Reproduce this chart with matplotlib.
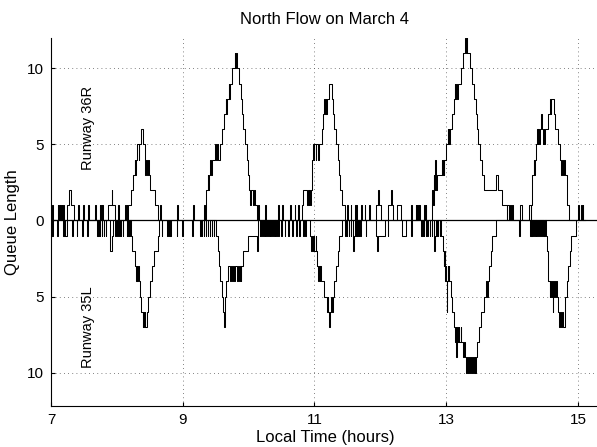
import matplotlib
matplotlib.use("Agg")
import matplotlib.pyplot as plt
import numpy as np

plt.rcParams['font.family'] = ['Liberation Sans', 'DejaVu Sans']

# queue length steps for runway 36R (time in hours, queue length)
r36_time = [
    7.00, 7.02, 7.03, 7.10, 7.11, 7.12, 7.13, 7.14, 7.15, 7.16, 7.17, 7.18, 7.19,
    7.25, 7.27, 7.31, 7.35, 7.41, 7.42, 7.49, 7.50, 7.56, 7.57, 7.67, 7.68,
    7.74, 7.75, 7.76, 7.77, 7.78, 7.79, 7.86, 7.92, 7.93, 7.97, 8.02, 8.03,
    8.13, 8.14, 8.15, 8.16, 8.17, 8.22, 8.25, 8.27, 8.28, 8.29, 8.31, 8.33, 8.34,
    8.37, 8.39, 8.42, 8.43, 8.44, 8.46, 8.47, 8.49, 8.50, 8.58, 8.62,
    8.66, 8.67, 8.92, 8.93, 9.16, 9.17,
    9.33, 9.34, 9.35, 9.36, 9.38, 9.39, 9.40, 9.42, 9.43, 9.44, 9.49, 9.51, 9.52,
    9.54, 9.56, 9.60, 9.62, 9.65, 9.66, 9.67, 9.70, 9.71, 9.72, 9.75, 9.79, 9.80,
    9.81, 9.83, 9.86, 9.88, 9.90, 9.92, 9.94, 9.97, 9.99, 10.01, 10.02, 10.03,
    10.06, 10.08, 10.09, 10.12,
    10.15, 10.16, 10.25, 10.26, 10.45, 10.46, 10.51, 10.52, 10.63, 10.64,
    10.70, 10.71, 10.75, 10.76,
    10.81, 10.82, 10.885, 10.90, 10.91, 10.92, 10.93, 10.945, 10.96, 10.97, 10.98,
    10.99, 11.00, 11.02, 11.03, 11.06, 11.07, 11.11, 11.13, 11.15, 11.16, 11.17,
    11.18, 11.19, 11.22, 11.265, 11.28, 11.30, 11.33, 11.35, 11.37, 11.39, 11.42, 11.46,
    11.50, 11.51, 11.55, 11.56, 11.62, 11.625, 11.63, 11.64, 11.71, 11.72,
    11.76, 11.77, 11.83, 11.84, 11.93, 11.96, 11.98, 12.01, 12.11, 12.16, 12.18, 12.19,
    12.26, 12.31, 12.47, 12.48, 12.54, 12.545, 12.55, 12.56, 12.57, 12.58, 12.59, 12.60,
    12.67, 12.68, 12.69, 12.70,
    12.78, 12.79, 12.80, 12.81, 12.82, 12.83, 12.84, 12.85, 12.86, 12.93, 12.94,
    12.95, 12.96, 12.97, 13.00, 13.02, 13.03, 13.04, 13.05, 13.06, 13.09, 13.12,
    13.13, 13.14, 13.15, 13.16, 13.18, 13.22, 13.26, 13.29, 13.305, 13.31, 13.32,
    13.36, 13.39, 13.42, 13.45, 13.47, 13.49, 13.52, 13.55, 13.58, 13.76, 13.78,
    13.84, 13.92, 13.93, 13.95, 13.97, 13.98, 14.00, 14.01, 14.12, 14.15,
    14.26, 14.28, 14.29, 14.30, 14.31, 14.33, 14.34, 14.35, 14.37, 14.38, 14.39,
    14.40, 14.41, 14.43, 14.44, 14.45, 14.47, 14.48, 14.49, 14.50, 14.55, 14.57,
    14.585, 14.595, 14.63, 14.65, 14.69, 14.73, 14.75, 14.76, 14.78, 14.79, 14.81,
    14.83, 14.84, 14.86, 15.00, 15.01, 15.04, 15.06, 15.07, 15.08, 15.10,
]
r36_queue = [
    0, 1, 0, 1, 0, 1, 0, 1, 0, 1, 0, 1, 0,
    1, 2, 1, 0, 1, 0, 1, 0, 1, 0, 1, 0,
    1, 0, 1, 0, 1, 0, 1, 2, 1, 0, 1, 0,
    1, 0, 1, 0, 1, 2, 3, 4, 3, 4, 5, 4, 5,
    6, 5, 4, 3, 4, 3, 4, 3, 2, 1, 0,
    1, 0, 1, 0, 1, 0,
    1, 0, 1, 2, 3, 2, 3, 4, 3, 4, 5, 4, 5,
    4, 5, 6, 7, 8, 7, 8, 9, 8, 9, 10, 11, 10,
    11, 10, 9, 8, 7, 6, 5, 4, 3, 2, 1, 2,
    1, 2, 1, 0,
    1, 0, 1, 0, 1, 0, 1, 0, 1, 0,
    1, 0, 1, 0,
    1, 2, 1, 2, 1, 2, 1, 2, 3, 4, 5,
    4, 5, 4, 5, 4, 5, 6, 7, 8, 7, 8,
    7, 8, 9, 8, 7, 6, 5, 4, 3, 2, 1, 0,
    1, 0, 1, 0, 1, 0, 1, 0, 1, 0,
    1, 0, 1, 0, 1, 2, 1, 0, 1, 2, 1, 0,
    1, 0, 1, 0, 1, 0, 1, 0, 1, 0, 1, 0,
    1, 0, 1, 0,
    1, 2, 1, 3, 2, 4, 3, 2, 3, 4, 3,
    4, 3, 4, 5, 6, 5, 6, 5, 6, 7, 8,
    9, 8, 9, 8, 9, 10, 11, 12, 11, 12, 11,
    10, 9, 8, 7, 6, 5, 4, 3, 2, 3, 2,
    1, 0, 1, 0, 1, 0, 1, 0, 1, 0,
    1, 0, 1, 2, 3, 4, 3, 4, 5, 6, 5,
    6, 5, 6, 7, 6, 5, 6, 5, 6, 7, 8,
    7, 8, 7, 6, 5, 4, 3, 4, 3, 4, 3,
    2, 1, 0, 1, 0, 1, 0, 1, 0, 0,
]

# queue length steps for runway 35L (drawn below the axis)
r35_time = [
    7.00, 7.01, 7.02, 7.03, 7.09, 7.10, 7.18, 7.19, 7.20, 7.21, 7.22, 7.24,
    7.32, 7.33, 7.39, 7.40, 7.47, 7.48, 7.55, 7.56, 7.70, 7.71, 7.72, 7.73,
    7.74, 7.75, 7.77, 7.78, 7.80, 7.81, 7.83, 7.84, 7.89, 7.90, 7.93, 7.94,
    7.97, 7.98, 8.00, 8.01, 8.03, 8.04, 8.06, 8.07, 8.09, 8.10, 8.15, 8.16,
    8.17, 8.18, 8.19, 8.20, 8.21,
    8.23, 8.27, 8.29, 8.30, 8.31, 8.32, 8.33, 8.35, 8.37, 8.39, 8.40, 8.41,
    8.42, 8.43, 8.45, 8.47, 8.50, 8.53, 8.56, 8.63, 8.64,
    8.68, 8.69, 8.76, 8.77, 8.79, 8.80, 8.81, 8.82, 8.91, 8.92, 8.99, 9.00,
    9.14, 9.15, 9.26, 9.27, 9.29, 9.30, 9.32, 9.33, 9.35, 9.36, 9.38, 9.39,
    9.41, 9.42, 9.44, 9.45, 9.47, 9.48, 9.50, 9.505, 9.51,
    9.53, 9.55, 9.57, 9.60, 9.61, 9.62, 9.64, 9.65, 9.68, 9.72, 9.73, 9.75,
    9.77, 9.78, 9.80, 9.82, 9.84, 9.86, 9.87, 9.88, 9.89, 9.91, 9.99, 10.13,
    10.14, 10.15,
    10.17, 10.18, 10.195, 10.205, 10.22, 10.23, 10.245, 10.255, 10.27, 10.28,
    10.295, 10.305, 10.32, 10.33, 10.345, 10.355, 10.37, 10.38, 10.395, 10.405,
    10.42, 10.43, 10.45, 10.46, 10.49, 10.50, 10.55, 10.56, 10.60, 10.61,
    10.66, 10.67, 10.72, 10.73, 10.77, 10.78, 10.83, 10.84, 10.86, 10.87,
    10.93, 10.95, 10.96, 10.98, 10.99, 11.00, 11.02, 11.03, 11.04, 11.06,
    11.07, 11.08, 11.09, 11.10, 11.14, 11.19, 11.20, 11.21, 11.225, 11.235,
    11.25, 11.26, 11.28, 11.30, 11.32, 11.35, 11.37, 11.42,
    11.47, 11.48, 11.49, 11.50, 11.52, 11.53, 11.55, 11.56, 11.58, 11.59,
    11.60, 11.61, 11.63, 11.64, 11.65, 11.66, 11.67, 11.68, 11.69, 11.70,
    11.78, 11.79, 11.94, 11.95, 11.97, 12.07, 12.11, 12.12, 12.33, 12.39,
    12.47, 12.48, 12.62, 12.63, 12.64, 12.65, 12.66, 12.67, 12.69, 12.70,
    12.71, 12.72, 12.75, 12.76, 12.78, 12.79, 12.81, 12.82, 12.83, 12.84,
    12.85, 12.86, 12.87, 12.88, 12.90, 12.91, 12.92,
    12.95, 12.96, 12.97, 12.975, 12.98, 12.99, 13.00, 13.005, 13.01, 13.02,
    13.03, 13.04, 13.05, 13.07, 13.09, 13.12, 13.14, 13.15, 13.155, 13.16,
    13.17, 13.18, 13.19, 13.20, 13.22, 13.23, 13.25, 13.27, 13.28, 13.30,
    13.32, 13.33, 13.35, 13.36, 13.38, 13.39, 13.41, 13.42, 13.43, 13.44,
    13.45, 13.47, 13.50, 13.53, 13.58, 13.61, 13.62, 13.63, 13.65, 13.68,
    13.70, 13.76,
    14.11, 14.12,
    14.27, 14.28, 14.29, 14.30, 14.31, 14.32, 14.33, 14.35, 14.36, 14.37,
    14.38, 14.40, 14.41, 14.42, 14.44, 14.45, 14.47, 14.48, 14.49, 14.50,
    14.51, 14.53, 14.54, 14.55, 14.57, 14.58, 14.59, 14.60, 14.615, 14.625,
    14.64, 14.65, 14.67, 14.68, 14.70, 14.72, 14.73, 14.74, 14.76, 14.77,
    14.80, 14.83, 14.85, 14.88, 14.90, 14.97, 15.10,
]
r35_queue = [
    1, 0, 1, 0, 1, 0, 1, 0, 1, 0, 1, 0,
    1, 0, 1, 0, 1, 0, 1, 0, 1, 0, 1, 0,
    1, 0, 1, 0, 1, 0, 1, 0, 1, 2, 1, 0,
    1, 0, 1, 0, 1, 0, 1, 0, 1, 0, 1, 0,
    1, 0, 1, 0, 1,
    2, 3, 4, 3, 4, 3, 4, 5, 6, 7, 6, 7,
    6, 7, 6, 5, 4, 3, 2, 1, 0,
    1, 0, 1, 0, 1, 0, 1, 0, 1, 0, 1, 0,
    1, 0, 1, 0, 1, 0, 1, 0, 1, 0, 1, 0,
    1, 0, 1, 0, 1, 0, 1, 0, 1,
    2, 3, 4, 5, 6, 7, 5, 4, 3, 4, 3, 4,
    3, 4, 3, 4, 3, 4, 3, 4, 3, 2, 1, 2,
    1, 0,
    1, 0, 1, 0, 1, 0, 1, 0, 1, 0,
    1, 0, 1, 0, 1, 0, 1, 0, 1, 0,
    1, 0, 1, 0, 1, 0, 1, 0, 1, 0,
    1, 0, 1, 0, 1, 0, 1, 0, 1, 0,
    1, 2, 1, 2, 1, 2, 1, 2, 3, 4,
    3, 4, 3, 4, 5, 6, 5, 6, 7, 6,
    5, 6, 5, 4, 3, 2, 1, 0,
    1, 0, 1, 0, 1, 0, 1, 0, 1, 2,
    1, 0, 1, 0, 1, 0, 1, 0, 1, 0,
    1, 0, 1, 2, 1, 0, 1, 0, 1, 0,
    1, 0, 1, 0, 1, 0, 1, 0, 1, 0,
    1, 0, 1, 0, 1, 0, 1, 2, 1, 0,
    1, 0, 1, 0, 1, 0, 1,
    2, 3, 2, 3, 4, 3, 4, 6, 4, 3,
    4, 3, 4, 5, 6, 7, 8, 7, 9, 8,
    7, 8, 7, 8, 7, 8, 9, 8, 9, 10,
    9, 10, 9, 10, 9, 10, 9, 10, 9, 10,
    9, 8, 7, 6, 5, 4, 5, 4, 3, 2,
    1, 0,
    1, 0,
    1, 0, 1, 0, 1, 0, 1, 0, 1, 0,
    1, 0, 1, 0, 1, 0, 1, 0, 1, 0,
    1, 2, 3, 4, 5, 4, 5, 4, 6, 5,
    4, 5, 4, 5, 6, 7, 6, 7, 6, 7,
    5, 4, 3, 2, 1, 0, 0,
]

x_ticks = [7, 9, 11, 13, 15]
y_ticks = [-10, -5, 0, 5, 10]
y_tick_labels = ['10', '5', '0', '5', '10']

fig = plt.figure(figsize=(5.97, 4.47), dpi=100)
ax = fig.add_axes([51 / 597, 41 / 447, 548 / 597, 368 / 447])

ax.step(r36_time, r36_queue, where='post', color='k', linewidth=0.75)
ax.step(r35_time, -np.array(r35_queue), where='post', color='k', linewidth=0.75)
ax.axhline(0, color='k', linewidth=0.9)

ax.set_xlim(7, 15.32)
ax.set_ylim(-12.2, 12.0)
ax.set_xticks(x_ticks)
ax.set_yticks(y_ticks)
ax.set_yticklabels(y_tick_labels)
ax.tick_params(direction='in', length=3, labelsize=11, pad=5)
ax.grid(True, linestyle=(0, (1, 4)), color='0.35', linewidth=0.6)
ax.spines['top'].set_visible(False)
ax.spines['right'].set_visible(False)

ax.text(7.56, 6.1, 'Runway 36R', rotation=90, ha='center', va='center', fontsize=10.5)
ax.text(7.56, -7.0, 'Runway 35L', rotation=90, ha='center', va='center', fontsize=10.5)

ax.set_title('North Flow on March 4', fontsize=12, pad=10)
ax.set_xlabel('Local Time (hours)', fontsize=12, labelpad=2)
ax.set_ylabel('Queue Length', fontsize=12, labelpad=5)

fig.savefig('out.png', dpi=100)
